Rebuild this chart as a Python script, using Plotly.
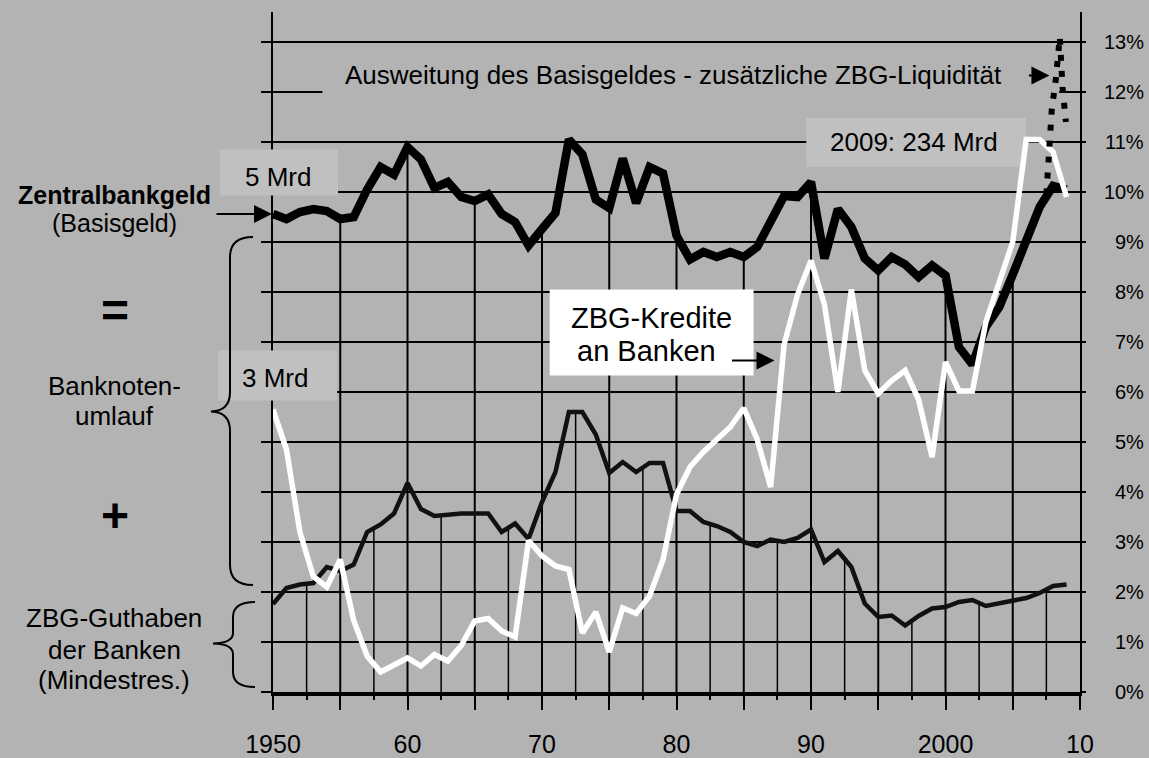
import numpy as np
import plotly.graph_objects as go

# ---------------- data (percent) ----------------
years = list(range(1950, 2010))

zentralbankgeld = [9.56, 9.46, 9.60, 9.66, 9.62, 9.46, 9.50, 10.05, 10.50, 10.35,
                   10.90, 10.65, 10.08, 10.20, 9.90, 9.82, 9.95, 9.56, 9.40, 8.93,
                   9.26, 9.58, 11.05, 10.75, 9.85, 9.68, 10.67, 9.78, 10.50, 10.37,
                   9.13, 8.65, 8.80, 8.70, 8.80, 8.70, 8.90, 9.40, 9.92, 9.90,
                   10.20, 8.67, 9.66, 9.30, 8.67, 8.43, 8.70, 8.55, 8.30, 8.53,
                   8.33, 6.90, 6.55, 7.30, 7.70, 8.35, 9.00, 9.70, 10.12, 10.05]

zbg_guthaben = [1.76, 2.08, 2.15, 2.18, 2.50, 2.42, 2.55, 3.20, 3.35, 3.57,
                4.18, 3.66, 3.52, 3.55, 3.57, 3.57, 3.57, 3.20, 3.37, 3.06,
                3.80, 4.40, 5.60, 5.60, 5.15, 4.38, 4.60, 4.40, 4.58, 4.58,
                3.62, 3.62, 3.40, 3.32, 3.20, 3.00, 2.92, 3.05, 3.00, 3.08,
                3.25, 2.60, 2.82, 2.50, 1.77, 1.50, 1.53, 1.33, 1.52, 1.67,
                1.70, 1.80, 1.84, 1.72, 1.77, 1.82, 1.88, 1.98, 2.12, 2.15]

zbg_kredite = [5.65, 4.85, 3.20, 2.31, 2.10, 2.65, 1.43, 0.72, 0.40, 0.55,
               0.68, 0.52, 0.75, 0.62, 0.93, 1.42, 1.47, 1.22, 1.10, 3.03,
               2.72, 2.52, 2.45, 1.18, 1.60, 0.80, 1.68, 1.57, 1.92, 2.65,
               3.95, 4.50, 4.80, 5.05, 5.30, 5.68, 5.05, 4.10, 6.95, 7.95,
               8.63, 7.75, 6.00, 8.05, 6.43, 5.97, 6.23, 6.43, 5.85, 4.70,
               6.60, 6.02, 6.02, 7.40, 8.20, 9.00, 11.05, 11.05, 10.80, 9.90]

ausweitung_x = [2007.5, 2007.9, 2008.2, 2008.5, 2008.7, 2008.95]
ausweitung_y = [9.95, 11.65, 12.25, 13.1, 12.1, 11.4]

x_tick_vals = [1950, 1955, 1960, 1965, 1970, 1975, 1980, 1985, 1990, 1995, 2000, 2005, 2010]
x_tick_text = ["1950", "", "60", "", "70", "", "80", "", "90", "", "2000", "", "10"]
x_minor_vals = [1952.5, 1957.5, 1962.5, 1967.5, 1972.5, 1977.5, 1982.5, 1987.5,
                1992.5, 1997.5, 2002.5, 2007.5]
y_tick_vals = list(range(0, 14))
y_tick_text = [f"{v}%" for v in y_tick_vals]

# ---------------- style ----------------
BG = "#B3B3B3"
BOX = "#C0C0C0"
FONT = "Liberation Sans, Arial, sans-serif"
W, H = 1149, 758
ML, MR, MT, MB = 273, 69, 12, 66
PW, PH = W - ML - MR, H - MT - MB
Y_MAX = 13.6


def pxx(x):
    return (x - ML) / PW


def pxy(y):
    return (H - MB - y) / PH


def path_px(cmds):
    out = []
    for c in cmds:
        if isinstance(c, str):
            out.append(c)
        else:
            out.append(f"{pxx(c[0]):.5f},{pxy(c[1]):.5f}")
    return " ".join(out)


fig = go.Figure()

# drop lines derived from the series
major_x = x_tick_vals[1:-1]
major_top = np.interp(major_x, years, zentralbankgeld)
minor_top = np.interp(x_minor_vals, years, zbg_guthaben)
dx, dy = [], []
for xv, tv in zip(major_x, major_top):
    dx += [xv, xv, None]
    dy += [0, float(tv), None]
mx, my = [], []
for xv, tv in zip(x_minor_vals, minor_top):
    mx += [xv, xv, None]
    my += [0, float(tv), None]

fig.add_trace(go.Scatter(x=dx, y=dy, mode="lines", line=dict(color="black", width=2),
                         hoverinfo="skip", showlegend=False))
fig.add_trace(go.Scatter(x=mx, y=my, mode="lines", line=dict(color="black", width=1.5),
                         hoverinfo="skip", showlegend=False))
fig.add_trace(go.Scatter(x=years, y=zbg_guthaben, mode="lines",
                         line=dict(color="#111111", width=4.5), showlegend=False))
fig.add_trace(go.Scatter(x=years, y=zentralbankgeld, mode="lines",
                         line=dict(color="black", width=8.5), showlegend=False))
fig.add_trace(go.Scatter(x=years, y=zbg_kredite, mode="lines",
                         line=dict(color="white", width=5.5), showlegend=False))
fig.add_trace(go.Scatter(x=ausweitung_x, y=ausweitung_y, mode="lines",
                         line=dict(color="black", width=6, dash="6px,10px"), showlegend=False))
fig.add_trace(go.Scatter(x=[None], y=[None], yaxis="y2", showlegend=False, hoverinfo="skip"))

shapes = []
# text boxes
shapes.append(dict(type="rect", xref="paper", yref="paper",
                   x0=pxx(220), x1=pxx(338), y0=9.93 / Y_MAX, y1=10.85 / Y_MAX,
                   fillcolor=BOX, line=dict(width=0), layer="above"))
shapes.append(dict(type="rect", xref="paper", yref="paper",
                   x0=pxx(218), x1=pxx(337), y0=5.83 / Y_MAX, y1=6.83 / Y_MAX,
                   fillcolor=BOX, line=dict(width=0), layer="above"))
shapes.append(dict(type="rect", xref="x", yref="y",
                   x0=1989.65, x1=2005.98, y0=10.5, y1=11.48,
                   fillcolor=BOX, line=dict(width=0), layer="between"))
shapes.append(dict(type="rect", xref="x", yref="y",
                   x0=1953.67, x1=2008.45, y0=11.83, y1=12.65,
                   fillcolor=BG, line=dict(width=0), layer="between"))
shapes.append(dict(type="rect", xref="x", yref="y",
                   x0=1970.57, x1=1985.73, y0=6.33, y1=8.05,
                   fillcolor="white", line=dict(width=0), layer="above"))
# braces
big = path_px(["M", (253, 237), "Q", (230, 237), (230, 257), "L", (230, 392),
               "Q", (230, 411), (211, 411.5), "Q", (230, 412), (230, 431),
               "L", (230, 565), "Q", (230, 585), (253, 585)])
small = path_px(["M", (255, 602), "Q", (233, 602), (233, 617), "L", (233, 633),
                 "Q", (233, 643), (213, 643.5), "Q", (233, 644), (233, 654),
                 "L", (233, 672), "Q", (233, 687), (255, 687)])
for p in (big, small):
    shapes.append(dict(type="path", xref="paper", yref="paper", path=p,
                       line=dict(color="black", width=2), layer="above"))

ann = []


def txt(text, x, y, size=26, xref="paper", yref="paper", xanchor="center", bold=False):
    ann.append(dict(text=f"<b>{text}</b>" if bold else text, x=x, y=y, xref=xref, yref=yref,
                    xanchor=xanchor, yanchor="middle", showarrow=False,
                    font=dict(family=FONT, size=size, color="black")))


# left explanation
txt("Zentralbankgeld", pxx(114), pxy(194.5), size=25, bold=True)
txt("(Basisgeld)", pxx(114), pxy(222.5), size=25)
txt("=", pxx(115), pxy(310), size=48, bold=True)
txt("Banknoten-", pxx(114), pxy(386))
txt("umlauf", pxx(114), pxy(416))
txt("+", pxx(115), pxy(515), size=48, bold=True)
txt("ZBG-Guthaben", pxx(114), pxy(618))
txt("der Banken", pxx(114), pxy(650))
txt("(Mindestres.)", pxx(114), pxy(680))
# in-plot labels
txt("5 Mrd", pxx(242.7), 10.31, yref="y", xanchor="left")
txt("3 Mrd", pxx(240), 6.29, yref="y", xanchor="left")
txt("2009: 234 Mrd", 1991.28, 11.0, xref="x", yref="y", xanchor="left")
txt("ZBG-Kredite", 1978.13, 7.49, size=29, xref="x", yref="y")
txt("an Banken", 1977.8, 6.83, size=29, xref="x", yref="y")
txt("Ausweitung des Basisgeldes - zusätzliche ZBG-Liquidität", 1955.23, 12.34,
    xref="x", yref="y", xanchor="left")
# right tick labels
for v, t in zip(y_tick_vals, y_tick_text):
    ann.append(dict(text=t, x=pxx(1146), y=v, xref="paper", yref="y", xanchor="right",
                    yanchor="middle", showarrow=False,
                    font=dict(family=FONT, size=20, color="black")))
# arrows
for (x, y, axp) in [(1950, zentralbankgeld[0], -58), (1987.36, 6.63, -45), (2007.8, 12.33, -23)]:
    ann.append(dict(text="", x=x, y=y, xref="x", yref="y", ax=axp, ay=0,
                    showarrow=True, arrowhead=2, arrowsize=1.8, arrowwidth=2,
                    arrowcolor="black", standoff=1))

fig.update_layout(
    width=W, height=H, autosize=False,
    margin=dict(l=ML, r=MR, t=MT, b=MB, pad=0, autoexpand=False),
    paper_bgcolor=BG, plot_bgcolor=BG,
    hovermode=False,
    font=dict(family=FONT, color="black"),
    xaxis=dict(range=[1950, 2010], showgrid=False, zeroline=False, automargin=False,
               showline=True, linecolor="black", linewidth=4,
               tickmode="array", tickvals=x_tick_vals, ticktext=x_tick_text,
               ticks="outside", ticklen=14, tickwidth=2, tickcolor="black",
               tickfont=dict(family=FONT, size=25, color="black"),
               ticklabelstandoff=13,
               minor=dict(tickmode="array", tickvals=x_minor_vals, ticks="outside",
                          ticklen=4, tickwidth=1.5, tickcolor="black", showgrid=False)),
    yaxis=dict(range=[0, Y_MAX], tickmode="array", tickvals=y_tick_vals, automargin=False,
               showgrid=True, gridcolor="black", gridwidth=2, zeroline=False,
               showline=True, linecolor="black", linewidth=2,
               ticks="outside", ticklen=10, tickwidth=2, tickcolor="black",
               showticklabels=False),
    yaxis2=dict(range=[0, Y_MAX], overlaying="y", side="right", tickmode="array",
                tickvals=y_tick_vals, showgrid=False, zeroline=False, automargin=False,
                showline=True, linecolor="black", linewidth=2,
                ticks="outside", ticklen=4, tickwidth=2, tickcolor="black",
                showticklabels=False),
    shapes=shapes,
    annotations=ann,
)

fig.write_html("out.html", config={"displayModeBar": False},
               post_script="document.body.style.margin='0';document.body.style.padding='0';")
